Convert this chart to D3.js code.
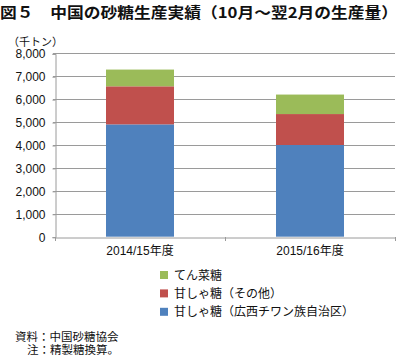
<!DOCTYPE html>
<html><head><meta charset="utf-8">
<script src="https://cdn.jsdelivr.net/npm/d3@7"></script>
<style>
html,body{margin:0;padding:0;background:#fff;}
svg{display:block;}
text{font-family:"Liberation Sans","Noto Sans CJK JP",sans-serif;}
</style></head>
<body>
<svg id="chart" width="400" height="356"></svg>
<script>
const categories = ["2014/15年度", "2015/16年度"];
const guangxi = [4900, 4000];
const caneOther = [1660, 1350];
const beet = [730, 850];
const seriesNames = ["甘しゃ糖（広西チワン族自治区）", "甘しゃ糖（その他）", "てん菜糖"];
const seriesColors = ["#4f81bd", "#c0504d", "#9bbb59"];
const yTicks = [0, 1000, 2000, 3000, 4000, 5000, 6000, 7000, 8000];
const titleText = "図５　中国の砂糖生産実績（10月～翌2月の生産量）";
const unitText = "（千トン）";
const notes = ["資料：中国砂糖協会", "注：精製糖換算。"];

const svg = d3.select("#chart");
const L = 55, R = 395, T = 53.3, B = 236.7;

const rows = categories.map((c, i) => ({cat: c, s0: guangxi[i], s1: caneOther[i], s2: beet[i]}));
const stack = d3.stack().keys(["s0", "s1", "s2"])(rows);

const x = d3.scaleBand().domain(categories).range([L, R]).paddingInner(0.6).paddingOuter(0.3);
const y = d3.scaleLinear().domain([0, 8000]).range([B, T]);

// title
svg.append("text").attr("x", 0).attr("y", 17.5)
  .attr("font-size", 15).attr("font-weight", "bold").attr("fill", "#111")
  .attr("textLength", 398).attr("lengthAdjust", "spacingAndGlyphs")
  .style("font-family", "'Noto Sans CJK JP',sans-serif")
  .text(titleText);

// unit
svg.append("text").attr("x", 8).attr("y", 45.5).attr("font-size", 11).attr("fill", "#111")
  .style("font-family", "'Noto Sans CJK JP',sans-serif")
  .text(unitText);

// gridlines
svg.append("g").selectAll("line").data(yTicks.filter(d => d > 0)).join("line")
  .attr("x1", L - 2).attr("x2", R).attr("y1", d => Math.round(y(d)) + 0.5).attr("y2", d => Math.round(y(d)) + 0.5)
  .attr("stroke", "#9a9a9a").attr("stroke-width", 1);

// y axis
const yAxis = d3.axisLeft(y).tickValues(yTicks).tickSize(3).tickPadding(7).tickFormat(d3.format(","));
const gy = svg.append("g").attr("transform", `translate(${L + 0.5},0.5)`).call(yAxis);
gy.select(".domain").attr("stroke", "#9a9a9a");
gy.selectAll(".tick line").attr("stroke", "#9a9a9a");
gy.selectAll(".tick text").attr("font-size", 12).attr("fill", "#111")
  .style("font-family", "'Liberation Sans',sans-serif");
gy.attr("font-family", null).attr("font-size", null);

// bars
svg.append("g").selectAll("g").data(stack).join("g")
  .attr("fill", (d, i) => seriesColors[i])
  .selectAll("rect").data(d => d).join("rect")
  .attr("x", d => x(d.data.cat)).attr("width", x.bandwidth())
  .attr("y", d => y(d[1])).attr("height", d => y(d[0]) - y(d[1]));

// x axis
const xAxis = d3.axisBottom(x).tickSize(0).tickPadding(9);
const gx = svg.append("g").attr("transform", `translate(0,${Math.round(B) + 0.5})`).call(xAxis);
gx.select(".domain").attr("stroke", "#9a9a9a");
gx.selectAll(".tick text").attr("font-size", 12).attr("fill", "#111")
  .style("font-family", "'Liberation Sans','Noto Sans CJK JP',sans-serif");
gx.attr("font-family", null).attr("font-size", null);
// category boundary ticks
const bounds = [L, L + x.step(), R];
svg.append("g").selectAll("line").data(bounds).join("line")
  .attr("x1", d => Math.round(d) + 0.5).attr("x2", d => Math.round(d) + 0.5)
  .attr("y1", Math.round(B)).attr("y2", Math.round(B) + 4)
  .attr("stroke", "#9a9a9a");

// legend
const legOrder = [2, 1, 0];
const lg = svg.append("g");
legOrder.forEach((si, k) => {
  const cy = 275 + k * 18.4;
  lg.append("rect").attr("x", 160).attr("y", cy - 4).attr("width", 8).attr("height", 8).attr("fill", seriesColors[si]);
  lg.append("text").attr("x", 174).attr("y", cy + 4.5).attr("font-size", 12).attr("fill", "#111")
    .style("font-family", "'Noto Sans CJK JP',sans-serif")
    .text(seriesNames[si]);
});

// notes
svg.append("text").attr("x", 15).attr("y", 340.5).attr("font-size", 11.5).attr("fill", "#111")
  .style("font-family", "'Liberation Sans','Noto Sans CJK JP',sans-serif").text(notes[0]);
svg.append("text").attr("x", 27).attr("y", 353.5).attr("font-size", 11.5).attr("fill", "#111")
  .style("font-family", "'Liberation Sans','Noto Sans CJK JP',sans-serif").text(notes[1]);
</script>
</body></html>
